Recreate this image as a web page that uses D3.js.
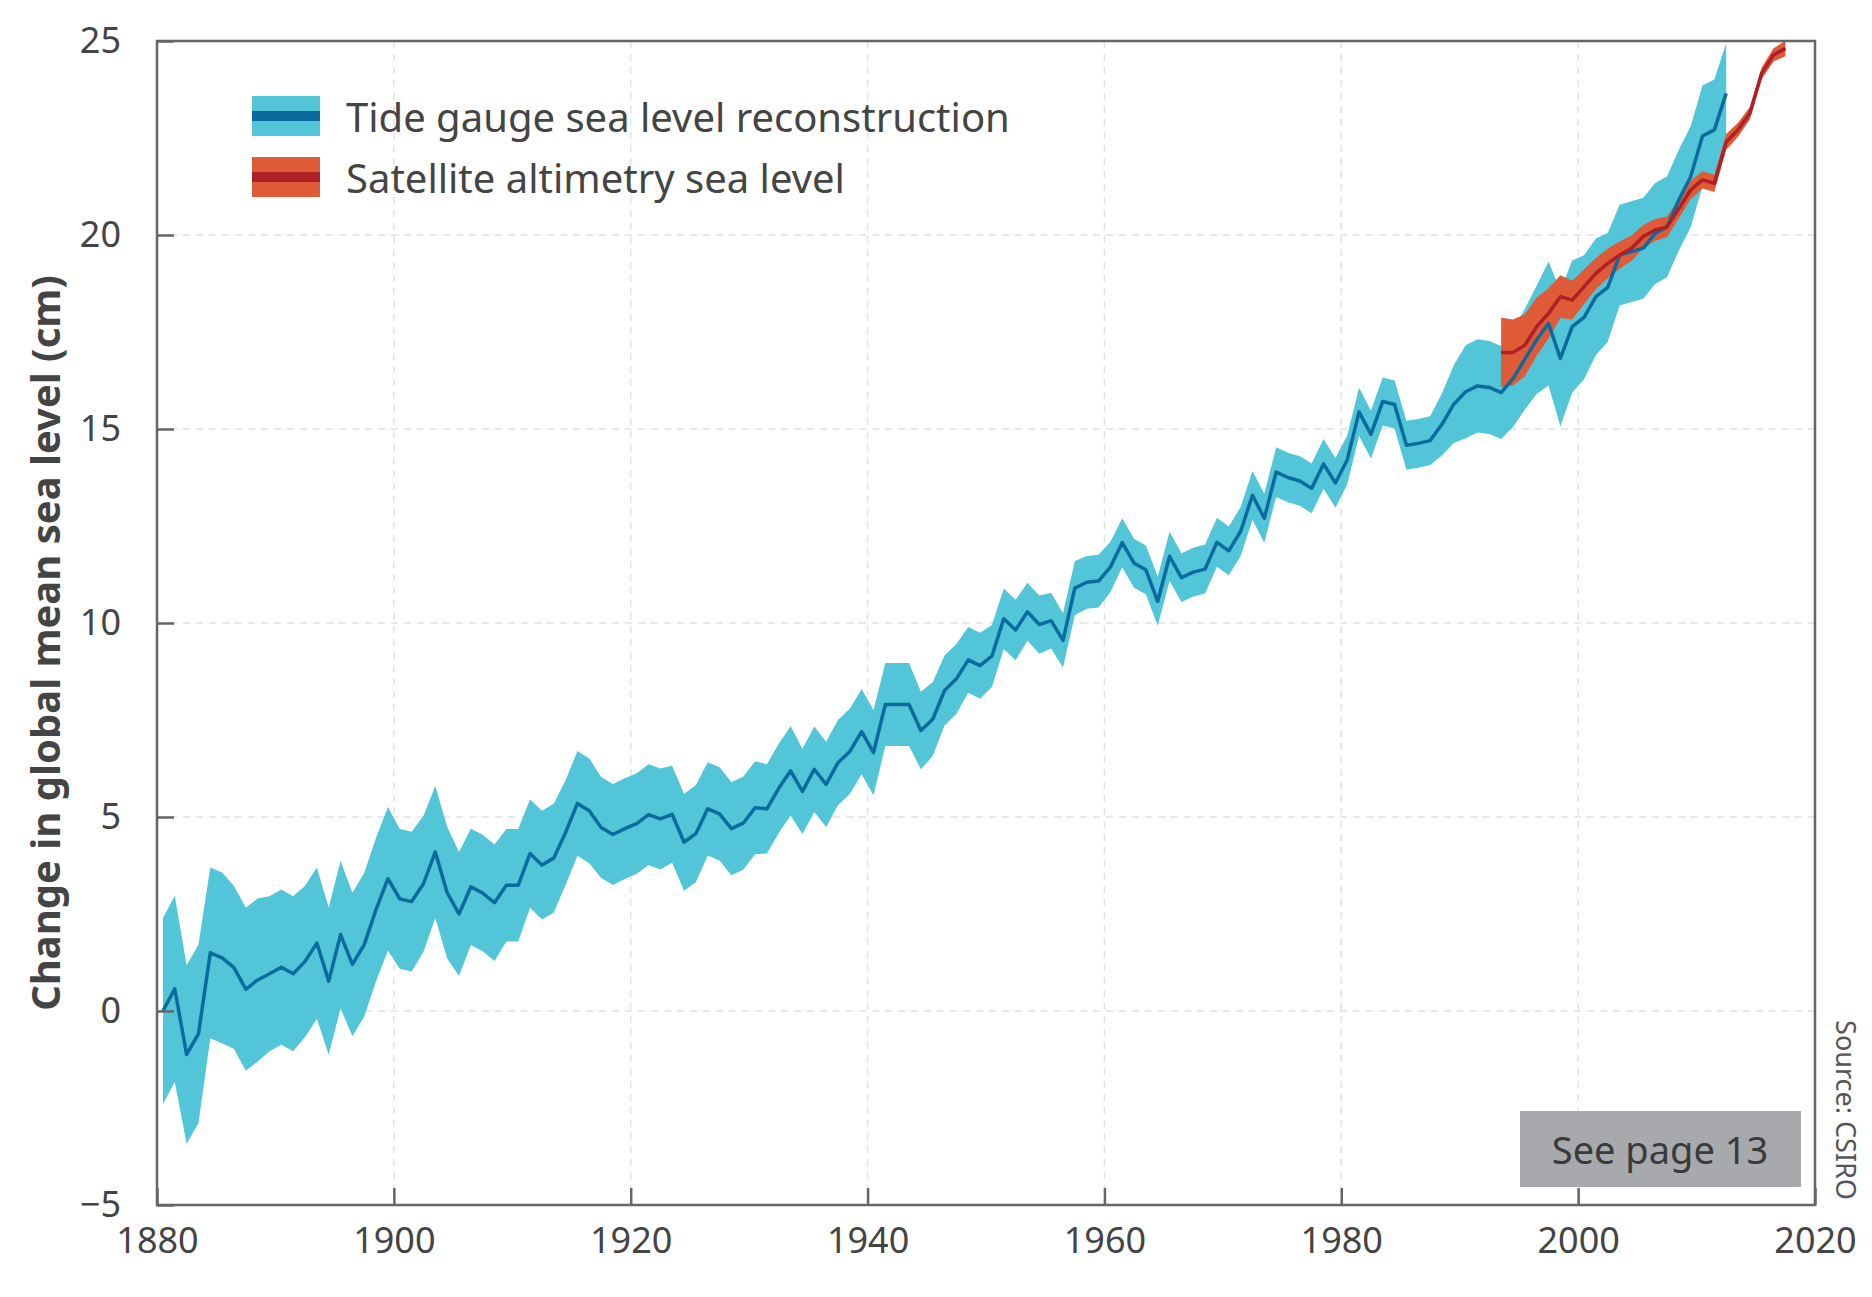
<!DOCTYPE html>
<html><head><meta charset="utf-8">
<script src="https://cdn.jsdelivr.net/npm/d3@7"></script>
<style>body{margin:0;background:#fff}svg{display:block}</style>
</head><body>
<svg id="c" width="1872" height="1297"></svg>
<script>
const tideStart = 1880;
const tideMean = [0,0.57,-1.12,-0.59,1.5,1.37,1.12,0.56,0.8,0.96,
1.13,0.96,1.28,1.75,0.77,1.97,1.2,1.71,2.62,3.41,
2.89,2.82,3.28,4.1,3.05,2.5,3.2,3.04,2.79,3.24,
3.24,4.06,3.76,3.94,4.6,5.35,5.16,4.73,4.55,4.7,
4.83,5.06,4.95,5.07,4.35,4.57,5.21,5.08,4.7,4.84,
5.24,5.21,5.74,6.19,5.66,6.23,5.84,6.4,6.69,7.2,
6.66,7.9,7.9,7.9,7.23,7.52,8.26,8.56,9.05,8.9,
9.15,10.11,9.82,10.29,9.96,10.06,9.55,10.9,11.05,11.08,
11.44,12.07,11.54,11.37,10.56,11.72,11.17,11.31,11.39,12.08,
11.86,12.36,13.29,12.7,13.89,13.75,13.66,13.47,14.1,13.61,
14.2,15.44,14.86,15.71,15.63,14.58,14.63,14.7,15.12,15.64,
15.96,16.11,16.07,15.94,16.3,16.8,17.3,17.72,16.82,17.64,
17.88,18.41,18.65,19.48,19.57,19.66,20.04,20.21,20.9,21.5,
22.55,22.71,23.65];
const tideErr = [2.4,2.4,2.3,2.3,2.2,2.2,2.1,2.1,2.1,2.0,
2.0,2.0,1.95,1.95,1.9,1.9,1.85,1.85,1.85,1.85,
1.8,1.8,1.75,1.7,1.7,1.6,1.5,1.5,1.5,1.45,
1.45,1.4,1.4,1.4,1.35,1.35,1.35,1.3,1.3,1.3,
1.3,1.3,1.3,1.25,1.25,1.25,1.2,1.2,1.2,1.2,
1.2,1.15,1.15,1.15,1.1,1.1,1.1,1.1,1.1,1.1,
1.1,1.07,1.07,1.07,1.0,0.95,0.9,0.9,0.85,0.85,
0.8,0.78,0.78,0.75,0.75,0.72,0.7,0.7,0.68,0.68,
0.65,0.63,0.63,0.63,0.63,0.63,0.63,0.63,0.63,0.63,
0.63,0.63,0.63,0.63,0.64,0.64,0.64,0.64,0.64,0.64,
0.63,0.62,0.62,0.62,0.62,0.63,0.63,0.63,0.8,1.0,
1.2,1.2,1.2,1.2,1.25,1.3,1.4,1.6,1.75,1.7,
1.6,1.5,1.4,1.3,1.3,1.3,1.3,1.3,1.3,1.3,
1.3,1.3,1.3];
const satStart = 1993;
const satMean = [16.97,16.97,17.16,17.64,17.98,18.41,18.32,18.67,19.01,19.27,
19.48,19.66,19.96,20.13,20.21,20.68,21.16,21.42,21.33,22.4,
22.71,23.14,24.17,24.64,24.81];
const satErr = [0.9,0.85,0.8,0.75,0.65,0.55,0.5,0.45,0.4,0.38,
0.35,0.33,0.3,0.28,0.27,0.25,0.24,0.22,0.22,0.2,
0.18,0.16,0.15,0.17,0.2];
const xTicks = [1880,1900,1920,1940,1960,1980,2000,2020];
const yTicks = [-5,0,5,10,15,20,25];
const legendLabels = ["Tide gauge sea level reconstruction","Satellite altimetry sea level"];

const svg = d3.select("#c");
const L=157,R=1815,T=41,B=1205;
const x = d3.scaleLinear().domain([1880,2020]).range([L,R]);
const y = d3.scaleLinear().domain([-5,25]).range([B,T]);
const font = "'Noto Sans', 'Open Sans', sans-serif";
const tc = "#444";

// grid
svg.append("g").selectAll("line").data(xTicks.slice(1,-1)).join("line")
 .attr("x1",d=>x(d)).attr("x2",d=>x(d)).attr("y1",T).attr("y2",B)
 .attr("stroke","#e2e2e2").attr("stroke-width",1.5).attr("stroke-dasharray","7,6");
svg.append("g").selectAll("line").data(yTicks.slice(1,-1)).join("line")
 .attr("y1",d=>y(d)).attr("y2",d=>y(d)).attr("x1",L).attr("x2",R)
 .attr("stroke","#e2e2e2").attr("stroke-width",1.5).attr("stroke-dasharray","7,6");

const tide = tideMean.map((v,i)=>({t:tideStart+i+0.5,v,e:tideErr[i]}));
const sat = satMean.map((v,i)=>({t:satStart+i+0.5,v,e:satErr[i]}));
const area = d3.area().x(d=>x(d.t)).y0(d=>y(d.v-d.e)).y1(d=>y(d.v+d.e));
const line = d3.line().x(d=>x(d.t)).y(d=>y(d.v));
const clip = svg.append("clipPath").attr("id","cp").append("rect").attr("x",L).attr("y",T).attr("width",R-L).attr("height",B-T);
const g = svg.append("g").attr("clip-path","url(#cp)");
g.append("path").datum(tide).attr("d",area).attr("fill","#52c6d8");
g.append("path").datum(sat).attr("d",area).attr("fill","#df5a36");
g.append("path").datum(tide).attr("d",line).attr("fill","none").attr("stroke","#0b6b9f").attr("stroke-width",3.5).attr("stroke-linejoin","round");
g.append("path").datum(sat).attr("d",line).attr("fill","none").attr("stroke","#ae1f26").attr("stroke-width",3.5).attr("stroke-linejoin","round");

// frame
svg.append("rect").attr("x",L).attr("y",T).attr("width",R-L).attr("height",B-T).attr("fill","none").attr("stroke","#666").attr("stroke-width",2.5);

// axes
const ax = svg.append("g").attr("transform",`translate(0,${B})`)
 .call(d3.axisBottom(x).tickValues(xTicks).tickFormat(d3.format("d")).tickSize(-17).tickPadding(30));
const ay = svg.append("g").attr("transform",`translate(${L},0)`)
 .call(d3.axisLeft(y).tickValues(yTicks).tickFormat(d=>d<0?"−"+Math.abs(d):d).tickSize(-17).tickPadding(36));
[ax,ay].forEach(a=>{a.select(".domain").remove();
 a.selectAll(".tick line").attr("stroke","#666").attr("stroke-width",2.5);
 a.selectAll(".tick text").attr("fill",tc).style("font-family",font).style("font-size","36px");});
ax.selectAll(".tick text").attr("dy","0.5em");

svg.append("text").attr("transform",`translate(44,${(T+B)/2+20}) rotate(-90)`)
 .attr("text-anchor","middle").attr("dominant-baseline","central")
 .style("font-family",font).style("font-size","40px").style("font-weight","bold").attr("fill",tc)
 .text("Change in global mean sea level (cm)");

// legend
const leg = [{c:"#52c6d8",l:"#0b6b9f"},{c:"#df5a36",l:"#ae1f26"}];
leg.forEach((d,i)=>{
 const yy = 116 + i*61;
 svg.append("rect").attr("x",252).attr("y",yy-20).attr("width",68).attr("height",40).attr("fill",d.c);
 svg.append("rect").attr("x",252).attr("y",yy-5).attr("width",68).attr("height",10).attr("fill",d.l);
 svg.append("text").attr("x",346).attr("y",yy).attr("dominant-baseline","central")
  .style("font-family",font).style("font-size","40px").attr("fill",tc).text(legendLabels[i]);
});

// see page box
svg.append("rect").attr("x",1520).attr("y",1111).attr("width",281).attr("height",76).attr("fill","#a7a9ac");
svg.append("text").attr("x",1660).attr("y",1149).attr("text-anchor","middle").attr("dominant-baseline","central")
 .style("font-family",font).style("font-size","38px").attr("fill","#3a3a3a").text("See page 13");
svg.append("text").attr("transform","translate(1846,1110) rotate(90)").attr("text-anchor","middle").attr("dominant-baseline","central")
 .style("font-family",font).style("font-size","27px").attr("fill","#555").text("Source: CSIRO");
</script>
</body></html>
